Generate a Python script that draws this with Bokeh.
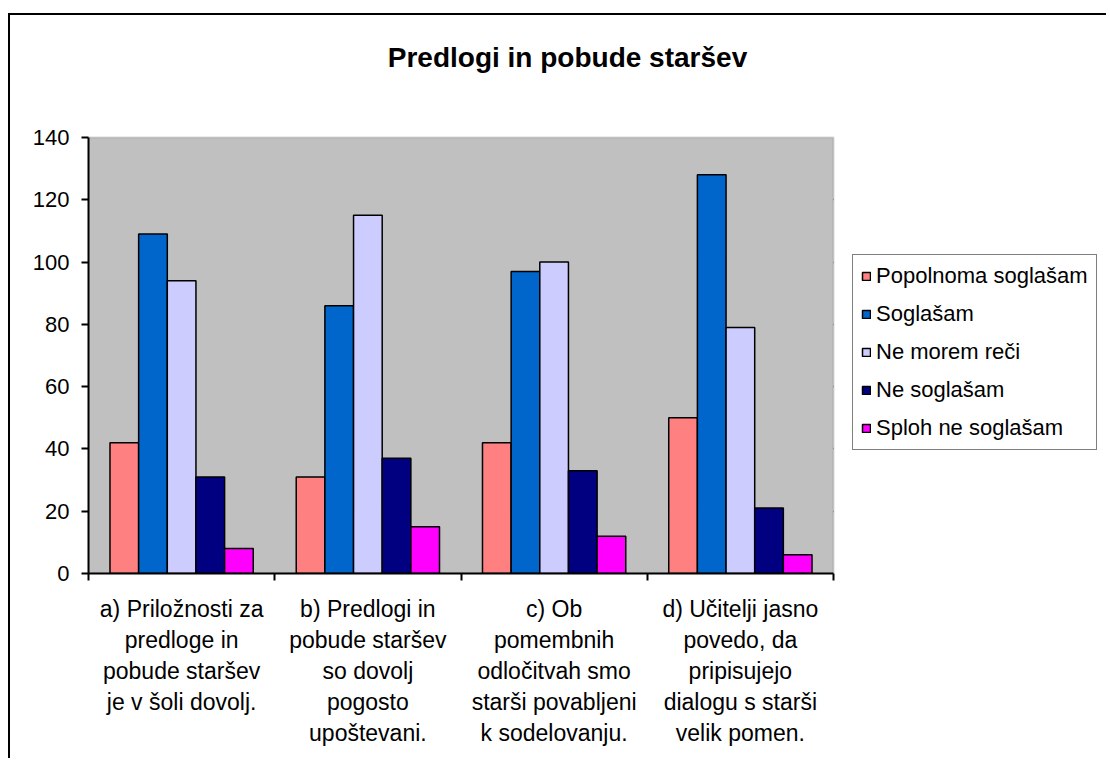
from bokeh.plotting import figure
from bokeh.models import (ColumnDataSource, Range1d, LinearAxis,
                          FixedTicker, Legend, Label, BoxAnnotation)
from bokeh.transform import dodge
from bokeh.embed import file_html
from bokeh.resources import INLINE

title_text = "Predlogi in pobude staršev"
categories = [
    "a) Priložnosti za\npredloge in\npobude staršev\nje v šoli dovolj.",
    "b) Predlogi in\npobude staršev\nso dovolj\npogosto\nupoštevani.",
    "c) Ob\npomembnih\nodločitvah smo\nstarši povabljeni\nk sodelovanju.",
    "d) Učitelji jasno\npovedo, da\npripisujejo\ndialogu s starši\nvelik pomen.",
]
series_names = ["Popolnoma soglašam", "Soglašam", "Ne morem reči", "Ne soglašam", "Sploh ne soglašam"]
popolnoma = [42, 31, 42, 50]
soglasam = [109, 86, 97, 128]
ne_morem = [94, 115, 100, 79]
ne_soglasam = [31, 37, 33, 21]
sploh_ne = [8, 15, 12, 6]
colors = ["#FF8080", "#0066CC", "#CCCCFF", "#000080", "#FF00FF"]
y_ticks = [0, 20, 40, 60, 80, 100, 120, 140]
y_max = 140

FONT = "Liberation Sans"

# layout (pixels)
W, H = 1098, 745
BL, BR, BT, BB = 78, 0, 5, 187
FRAME_W, FRAME_H = W - BL - BR, H - BT - BB
PLOT_W, PLOT_H = 745, 436          # size of the grey plot area inside the frame

ncat = len(categories)
centers = [i + 0.5 for i in range(ncat)]
edges = list(range(ncat + 1))

src = ColumnDataSource(dict(x=centers, s0=popolnoma, s1=soglasam, s2=ne_morem,
                            s3=ne_soglasam, s4=sploh_ne))

p = figure(x_range=Range1d(0, ncat * FRAME_W / PLOT_W),
           y_range=Range1d(0, y_max * FRAME_H / PLOT_H),
           width=W, height=H, output_backend="svg", toolbar_location=None,
           x_axis_location=None,
           min_border_left=BL, min_border_right=BR, min_border_top=BT, min_border_bottom=BB,
           styles={"margin-left": "8px", "margin-top": "13px",
                   "border-left": "2px solid black", "border-top": "2px solid black"})

p.background_fill_color = "white"
p.border_fill_color = "white"
p.outline_line_color = None

# grey plot area
p.add_layout(BoxAnnotation(left=0, right=ncat, bottom=0, top=y_max,
                           fill_color="#C0C0C0", fill_alpha=1,
                           line_color="#808080", line_width=2, level="underlay"))

# bars
n = len(series_names)
w = 1.0 / 6.5
renderers = []
for i, (name, col) in enumerate(zip(series_names, colors)):
    r = p.vbar(x=dodge("x", (i - (n - 1) / 2) * w), top="s%d" % i,
               width=w, source=src, fill_color=col, line_color="black", line_width=1.5)
    renderers.append((name, [r]))

# y axis
yax = p.yaxis[0]
yax.ticker = FixedTicker(ticks=y_ticks)
yax.bounds = (0, y_max)
yax.minor_tick_line_color = None
yax.major_tick_in = 0
yax.major_tick_out = 7
yax.major_tick_line_width = 2
yax.major_tick_line_color = "black"
yax.axis_line_color = "black"
yax.axis_line_width = 2
yax.major_label_text_font = FONT
yax.major_label_text_font_size = "22px"
yax.major_label_text_color = "black"
yax.major_label_standoff = 12

p.ygrid.grid_line_color = "black"
p.ygrid.grid_line_width = 1.5
p.ygrid.ticker = FixedTicker(ticks=y_ticks[1:-1])
p.ygrid.cross_bounds = (0, ncat)
for g in p.xgrid:
    g.visible = False

# x tick marks at category boundaries
edge_axis = LinearAxis(ticker=FixedTicker(ticks=edges), bounds=(0, ncat),
                       major_label_overrides={k: "" for k in edges},
                       major_label_text_font_size="0px", major_label_standoff=0,
                       major_tick_in=0, major_tick_out=7, major_tick_line_width=2,
                       major_tick_line_color="black", minor_tick_line_color=None,
                       axis_line_color="black", axis_line_width=2)
p.add_layout(edge_axis, "below")

cat_axis = LinearAxis(ticker=FixedTicker(ticks=centers),
                      major_label_overrides={c: t for c, t in zip(centers, categories)},
                      axis_line_color=None, major_tick_line_color=None, minor_tick_line_color=None,
                      major_label_text_font=FONT, major_label_text_font_size="23px",
                      major_label_text_color="black", major_label_standoff=9,
                      major_label_text_line_height=1.2)
p.add_layout(cat_axis, "below")

# legend
legend = Legend(items=renderers, location=(764, 123), orientation="vertical",
                label_text_font=FONT, label_text_font_size="22px", label_text_color="black",
                glyph_width=10, glyph_height=10, label_height=24, spacing=12, padding=8,
                label_standoff=5, margin=0, border_line_color="black", border_line_width=1.5,
                background_fill_color="white", background_fill_alpha=1)
p.add_layout(legend, "center")

# chart title
p.add_layout(Label(x=479, y=516, x_units="screen", y_units="screen", text=title_text,
                   text_font=FONT, text_font_style="bold", text_font_size="28px",
                   text_align="center", text_baseline="middle", text_color="black"))

open("out.html", "w").write(file_html(p, INLINE))
